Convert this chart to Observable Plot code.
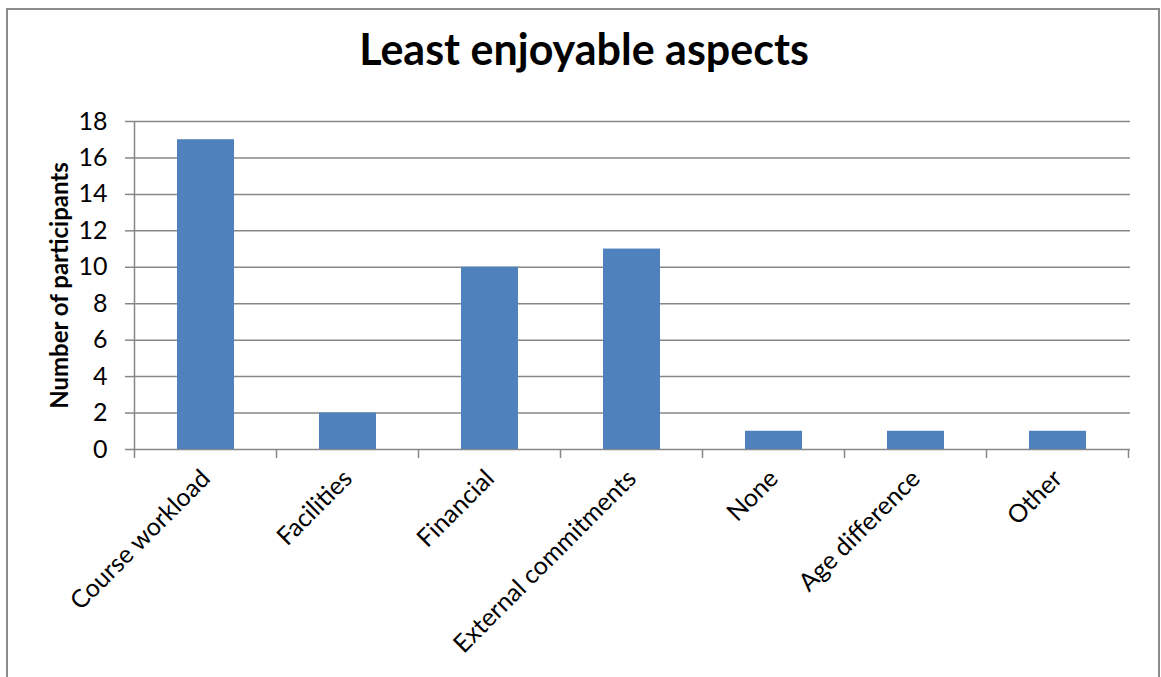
<!DOCTYPE html>
<html>
<head>
<meta charset="utf-8">
<script src="https://cdn.jsdelivr.net/npm/d3@7"></script>
<script src="https://cdn.jsdelivr.net/npm/@observablehq/plot@0.6"></script>
<style>
  body { margin: 0; background: #fff; }
  #chart { position: relative; width: 1161px; height: 677px; overflow: hidden; background: #fff; }
  #chart svg { position: absolute; left: 0; top: 0; }
  #border { position: absolute; left: 6px; top: 8px; width: 1154px; height: 720px;
            border: 2px solid #8c8c8c; box-sizing: border-box; pointer-events: none; }
</style>
</head>
<body>
<div id="chart"><div id="border"></div></div>
<script>
// Survey responses: least enjoyable aspects of the course
const categories = [
  "Course workload",
  "Facilities",
  "Financial",
  "External commitments",
  "None",
  "Age difference",
  "Other"
];
const participants = [17, 2, 10, 11, 1, 1, 1];
const yTicks = [0, 2, 4, 6, 8, 10, 12, 14, 16, 18];
const titleText = "Least enjoyable aspects";
const yLabelText = "Number of participants";

const data = categories.map((category, i) => ({category, participants: participants[i]}));

const gridColor = "#878787";
const barColor = "#4F81BD";
const font = "Lato, 'Open Sans', 'DejaVu Sans', sans-serif";

// Category boundary ticks below the baseline, plus the vertical value axis line
function categoryAxis(index, {x, y}) {
  const domain = x.domain();
  const bw = x.bandwidth();
  const step = x(domain[1]) - x(domain[0]);
  const bounds = domain.map(c => x(c) + bw / 2 - step / 2);
  bounds.push(x(domain[domain.length - 1]) + bw / 2 + step / 2);
  const y0 = y(0);
  const yTop = y(d3.max(yTicks));
  const g = d3.create("svg:g")
    .attr("stroke", gridColor)
    .attr("stroke-width", 1.5)
    .attr("fill", "none");
  g.selectAll("line.tick")
    .data(bounds)
    .join("line")
    .attr("class", "tick")
    .attr("x1", d => d).attr("x2", d => d)
    .attr("y1", y0).attr("y2", y0 + 9);
  g.append("line")
    .attr("x1", bounds[0]).attr("x2", bounds[0])
    .attr("y1", yTop).attr("y2", y0);
  return g.node();
}

const plot = Plot.plot({
  width: 1161,
  height: 677,
  marginLeft: 133,
  marginRight: 31,
  marginTop: 121,
  marginBottom: 228,
  style: {fontFamily: font, background: "transparent", color: "black"},
  x: {domain: categories, paddingInner: 0.6, paddingOuter: 0.3, align: 0.5},
  y: {domain: [0, 18]},
  marks: [
    Plot.gridY(yTicks, {stroke: gridColor, strokeOpacity: 1, strokeWidth: 1.5}),
    Plot.barY(data, {x: "category", y: "participants", fill: barColor}),
    Plot.axisY(yTicks, {
      tickSize: 8, tickPadding: 18, stroke: gridColor, strokeWidth: 1.5,
      fontSize: 25, fill: "black", label: null
    }),
    Plot.axisX({
      tickSize: 0, tickPadding: 25, tickRotate: -45,
      fontSize: 25, fill: "black", label: null
    }),
    categoryAxis,
    Plot.text([titleText], {
      text: d => d, frameAnchor: "top", dx: -48, dy: -70,
      fontSize: 43, fontWeight: "bold", lineAnchor: "middle", fill: "black"
    }),
    Plot.text([yLabelText], {
      text: d => d, frameAnchor: "left", dx: -73, rotate: -90,
      textAnchor: "middle",
      fontSize: 24, fontWeight: "bold", lineAnchor: "middle", fill: "black"
    })
  ]
});

document.getElementById("chart").insertBefore(plot, document.getElementById("border"));
</script>
</body>
</html>
